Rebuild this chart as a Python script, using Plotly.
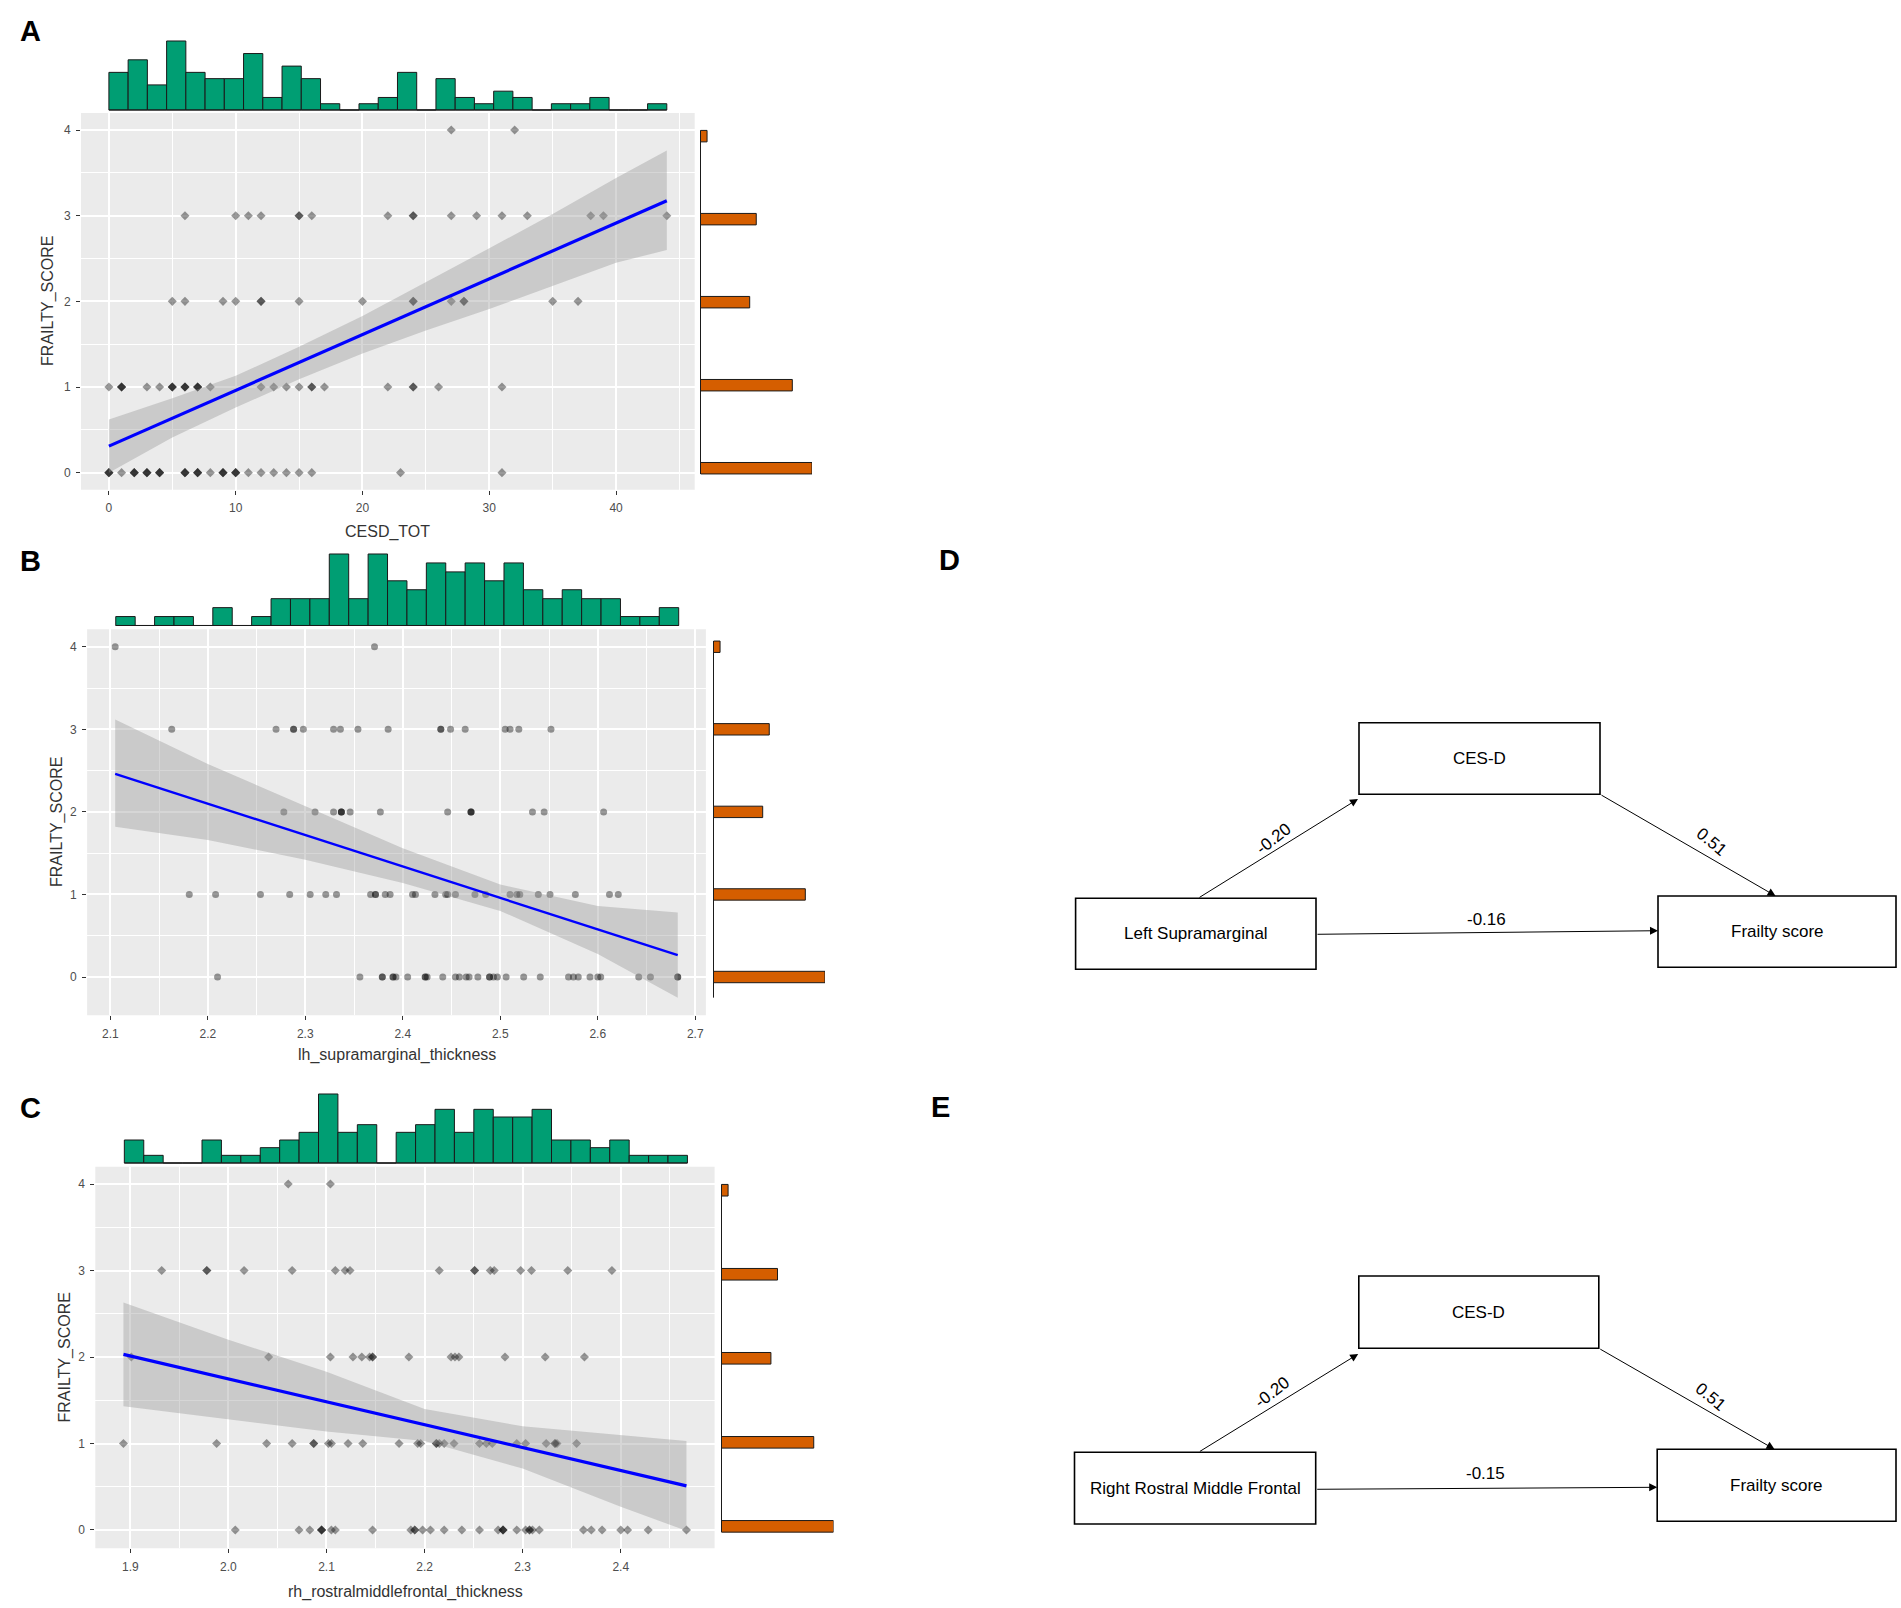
import plotly.graph_objects as go

W, H = 1901, 1608
FONT = "Liberation Sans, Arial, Helvetica, sans-serif"


def fx(p):
    return p / W


def fy(p):
    return 1.0 - p / H


# ---------------- data ----------------
frailty_levels = [0, 1, 2, 3, 4]
frailty_counts = [34, 28, 15, 17, 2]
frailty_ticks = [0, 1, 2, 3, 4]

# Panel A : CESD_TOT vs FRAILTY_SCORE
a_x_at0 = [0, 0, 0, 1, 2, 2, 2, 3, 3, 3, 4, 4, 4, 6, 6, 6, 7, 7, 7, 8, 9, 9, 9, 10, 10, 10, 11, 12, 13, 14, 15, 16, 23, 31]
a_x_at1 = [0, 1, 1, 1, 3, 4, 5, 5, 5, 6, 6, 6, 7, 7, 7, 8, 12, 13, 14, 15, 16, 16, 17, 22, 24, 24, 26, 31]
a_x_at2 = [5, 6, 9, 10, 12, 12, 15, 20, 24, 24, 27, 28, 28, 35, 37]
a_x_at3 = [6, 10, 11, 12, 15, 15, 16, 22, 24, 24, 27, 29, 31, 33, 38, 39, 44]
a_x_at4 = [27, 32]
a_fit_x = [0, 44]
a_fit_y = [0.31, 3.175]
a_band_x = [0, 5, 10, 15, 20, 25, 30, 35, 40, 44]
a_band_lo = [0.00, 0.41, 0.76, 1.09, 1.39, 1.66, 1.91, 2.18, 2.45, 2.60]
a_band_hi = [0.62, 0.87, 1.13, 1.47, 1.83, 2.22, 2.62, 3.02, 3.44, 3.76]
a_hist_counts = [6, 8, 4, 11, 6, 5, 5, 9, 2, 7, 5, 1, 0, 1, 2, 6, 0, 5, 2, 1, 3, 2, 0, 1, 1, 2, 0, 0, 1]
a_hist_span = [0, 44]
a_xticks = [0, 10, 20, 30, 40]
a_xticklabels = ["0", "10", "20", "30", "40"]

# Panel B : lh_supramarginal_thickness vs FRAILTY_SCORE
b_x_at0 = [2.210, 2.356, 2.379, 2.379, 2.390, 2.390, 2.393, 2.405, 2.423, 2.423, 2.425, 2.441, 2.454, 2.458,
           2.465, 2.468, 2.477, 2.489, 2.489, 2.493, 2.497, 2.506, 2.524, 2.541, 2.570, 2.575, 2.580, 2.592,
           2.600, 2.603, 2.642, 2.654, 2.682, 2.682]
b_x_at1 = [2.181, 2.208, 2.254, 2.284, 2.305, 2.321, 2.332, 2.367, 2.372, 2.372, 2.382, 2.387, 2.410, 2.413,
           2.433, 2.444, 2.446, 2.454, 2.474, 2.485, 2.510, 2.517, 2.520, 2.539, 2.551, 2.577, 2.612, 2.621]
b_x_at2 = [2.278, 2.310, 2.329, 2.337, 2.337, 2.337, 2.346, 2.377, 2.446, 2.470, 2.470, 2.470, 2.533, 2.545, 2.606]
b_x_at3 = [2.163, 2.270, 2.288, 2.288, 2.298, 2.329, 2.336, 2.354, 2.385, 2.439, 2.439, 2.449, 2.464, 2.505,
           2.510, 2.519, 2.552]
b_x_at4 = [2.105, 2.371]
b_fit_x = [2.105, 2.682]
b_fit_y = [2.46, 0.266]
b_band_x = [2.105, 2.2, 2.3, 2.4, 2.5, 2.6, 2.682]
b_band_lo = [1.82, 1.66, 1.42, 1.14, 0.80, 0.28, -0.25]
b_band_hi = [3.12, 2.58, 2.07, 1.56, 1.12, 0.86, 0.78]
b_hist_counts = [1, 0, 1, 1, 0, 2, 0, 1, 3, 3, 3, 8, 3, 8, 5, 4, 7, 6, 7, 5, 7, 4, 3, 4, 3, 3, 1, 1, 2]
b_hist_span = [2.1056, 2.683]
b_xticks = [2.1, 2.2, 2.3, 2.4, 2.5, 2.6, 2.7]
b_xticklabels = ["2.1", "2.2", "2.3", "2.4", "2.5", "2.6", "2.7"]

# Panel C : rh_rostralmiddlefrontal_thickness vs FRAILTY_SCORE
c_x_at0 = [2.007, 2.072, 2.083, 2.095, 2.095, 2.095, 2.105, 2.109, 2.147, 2.186, 2.190, 2.190, 2.198, 2.206,
           2.220, 2.238, 2.256, 2.275, 2.280, 2.280, 2.280, 2.294, 2.303, 2.307, 2.307, 2.310, 2.317, 2.362,
           2.370, 2.381, 2.400, 2.407, 2.428, 2.467]
c_x_at1 = [1.893, 1.988, 2.039, 2.065, 2.087, 2.087, 2.102, 2.105, 2.122, 2.137, 2.174, 2.193, 2.196, 2.212,
           2.212, 2.215, 2.220, 2.230, 2.256, 2.263, 2.269, 2.294, 2.303, 2.324, 2.333, 2.333, 2.335, 2.355]
c_x_at2 = [1.901, 2.041, 2.104, 2.127, 2.136, 2.144, 2.147, 2.147, 2.184, 2.227, 2.231, 2.235, 2.282, 2.323, 2.363]
c_x_at3 = [1.932, 1.978, 1.978, 2.016, 2.065, 2.109, 2.119, 2.124, 2.215, 2.251, 2.251, 2.267, 2.271, 2.298,
           2.309, 2.346, 2.391]
c_x_at4 = [2.061, 2.104]
c_fit_x = [1.893, 2.467]
c_fit_y = [2.03, 0.51]
c_band_x = [1.893, 2.0, 2.1, 2.2, 2.3, 2.4, 2.467]
c_band_lo = [1.43, 1.28, 1.14, 1.03, 0.71, 0.27, -0.01]
c_band_hi = [2.63, 2.20, 1.83, 1.40, 1.20, 1.10, 1.03]
c_hist_counts = [3, 1, 0, 0, 3, 1, 1, 2, 3, 4, 9, 4, 5, 0, 4, 5, 7, 4, 7, 6, 6, 7, 3, 3, 2, 3, 1, 1, 1]
c_hist_span = [1.8939, 2.468]
c_xticks = [1.9, 2.0, 2.1, 2.2, 2.3, 2.4]
c_xticklabels = ["1.9", "2.0", "2.1", "2.2", "2.3", "2.4"]

# Mediation diagrams D and E
d_nodes = ["CES-D", "Left Supramarginal", "Frailty score"]
d_paths = ["-0.20", "0.51", "-0.16"]
e_nodes = ["CES-D", "Right Rostral Middle Frontal", "Frailty score"]
e_paths = ["-0.20", "0.51", "-0.15"]

# ---------------- layout / style config ----------------
panels = [
    dict(letter="A", letter_xy=(30.5, 30.5), xs=[a_x_at0, a_x_at1, a_x_at2, a_x_at3, a_x_at4],
         fit_x=a_fit_x, fit_y=a_fit_y, band_x=a_band_x, band_lo=a_band_lo, band_hi=a_band_hi,
         hist=a_hist_counts, hist_span=a_hist_span, xticks=a_xticks, xticklabels=a_xticklabels,
         xtitle="CESD_TOT", xrange=[-2.2, 46.2], yrange=[-0.2, 4.2],
         xdom=(81.0, 694.7), ydom=(112.9, 489.8), hist_base=110.0, hist_top=41.0,
         marg_x=(700.5, 812.0), marg_yrange=[-0.26, 4.28], marg_line=(-0.07, 4.07),
         minor_dx=5, xtitle_xy=(387.8, 532.0), ytitle_xy=(48.5, 301.4),
         msym="diamond", msize=7.0, lw=3.2),
    dict(letter="B", letter_xy=(30.7, 560.5), xs=[b_x_at0, b_x_at1, b_x_at2, b_x_at3, b_x_at4],
         fit_x=b_fit_x, fit_y=b_fit_y, band_x=b_band_x, band_lo=b_band_lo, band_hi=b_band_hi,
         hist=b_hist_counts, hist_span=b_hist_span, xticks=b_xticks, xticklabels=b_xticklabels,
         xtitle="lh_supramarginal_thickness", xrange=[2.0762, 2.7109], yrange=[-0.4625, 4.2125],
         xdom=(87.1, 705.9), ydom=(629.2, 1015.2), hist_base=625.5, hist_top=554.0,
         marg_x=(713.5, 825.0), marg_yrange=[-0.4625, 4.2125], marg_line=(-0.25, 4.07),
         minor_dx=0.05, xtitle_xy=(396.5, 1055.0), ytitle_xy=(57.0, 822.0),
         msym="circle", msize=7.0, lw=2.4),
    dict(letter="C", letter_xy=(30.5, 1108.0), xs=[c_x_at0, c_x_at1, c_x_at2, c_x_at3, c_x_at4],
         fit_x=c_fit_x, fit_y=c_fit_y, band_x=c_band_x, band_lo=c_band_lo, band_hi=c_band_hi,
         hist=c_hist_counts, hist_span=c_hist_span, xticks=c_xticks, xticklabels=c_xticklabels,
         xtitle="rh_rostralmiddlefrontal_thickness", xrange=[1.8643, 2.4957], yrange=[-0.2105, 4.2005],
         xdom=(95.3, 714.6), ydom=(1166.7, 1548.2), hist_base=1163.0, hist_top=1094.0,
         marg_x=(721.5, 833.5), marg_yrange=[-0.26, 4.28], marg_line=(-0.07, 4.07),
         minor_dx=0.05, xtitle_xy=(405.0, 1592.0), ytitle_xy=(64.0, 1357.5),
         msym="diamond", msize=7.0, lw=3.2),
]

diagrams = [
    dict(letter="D", letter_xy=(949.0, 560.0), nodes=d_nodes, paths=d_paths,
         boxes=[(1359.0, 722.7, 1600.0, 794.3), (1075.6, 898.3, 1316.0, 969.3), (1658.0, 896.0, 1896.0, 967.3)],
         arrows=[((1198.0, 898.3), (1358.0, 799.0)), ((1600.0, 794.3), (1775.6, 896.0)),
                 ((1316.0, 934.3), (1658.0, 930.7))],
         labels=[(1273.7, 838.3, -38), (1711.0, 841.7, 40), (1486.5, 920.0, 0)]),
    dict(letter="E", letter_xy=(940.0, 1107.0), nodes=e_nodes, paths=e_paths,
         boxes=[(1358.8, 1276.0, 1598.8, 1348.3), (1074.5, 1452.3, 1315.7, 1524.0), (1657.2, 1449.3, 1896.0, 1521.3)],
         arrows=[((1198.4, 1452.3), (1358.2, 1354.0)), ((1598.8, 1348.3), (1774.5, 1449.3)),
                 ((1315.7, 1489.3), (1657.2, 1487.3))],
         labels=[(1272.0, 1392.7, -38), (1710.0, 1396.7, 40), (1485.4, 1473.3, 0)]),
]

GREEN = "#009E73"
ORANGE = "#D55E00"
OUTLINE = "#1a1a1a"

fig = go.Figure()
layout_axes = {}
shapes = []
annotations = []


def axname(k, n):
    return f"{k}axis" if n == 1 else f"{k}axis{n}"


def aref(k, n):
    return k if n == 1 else f"{k}{n}"


for i, p in enumerate(panels):
    nm, nh, ng = 3 * i + 1, 3 * i + 2, 3 * i + 3
    xm, ym = aref("x", nm), aref("y", nm)
    xh, yh = aref("x", nh), aref("y", nh)
    xg, yg = aref("x", ng), aref("y", ng)

    # scatter points
    pts_x, pts_y = [], []
    for lvl, xs in zip(frailty_levels, p["xs"]):
        pts_x += xs
        pts_y += [lvl] * len(xs)
    fig.add_trace(go.Scatter(x=pts_x, y=pts_y, mode="markers", xaxis=xm, yaxis=ym,
                             marker=dict(symbol=p["msym"], size=p["msize"], color="rgba(0,0,0,0.4)",
                                         line=dict(width=0)),
                             hoverinfo="skip", showlegend=False))
    # confidence band
    fig.add_trace(go.Scatter(x=p["band_x"] + p["band_x"][::-1], y=p["band_lo"] + p["band_hi"][::-1],
                             mode="lines", fill="toself", fillcolor="rgba(153,153,153,0.4)",
                             line=dict(width=0), xaxis=xm, yaxis=ym, hoverinfo="skip", showlegend=False))
    # regression line
    fig.add_trace(go.Scatter(x=p["fit_x"], y=p["fit_y"], mode="lines", xaxis=xm, yaxis=ym,
                             line=dict(color="#0000FF", width=p["lw"]), hoverinfo="skip", showlegend=False))
    # top marginal histogram
    lo, hi = p["hist_span"]
    nb = len(p["hist"])
    w = (hi - lo) / nb
    centers = [lo + (k + 0.5) * w for k in range(nb)]
    fig.add_trace(go.Bar(x=centers, y=p["hist"], width=w, xaxis=xh, yaxis=yh,
                         marker=dict(color=GREEN, line=dict(color=OUTLINE, width=1)),
                         hoverinfo="skip", showlegend=False))
    # right marginal histogram
    fig.add_trace(go.Bar(x=frailty_counts, y=frailty_levels, orientation="h", width=0.138, xaxis=xg, yaxis=yg,
                         marker=dict(color=ORANGE, line=dict(color=OUTLINE, width=1)),
                         hoverinfo="skip", showlegend=False))

    tickfont = dict(family=FONT, size=12, color="#4D4D4D")
    layout_axes[axname("x", nm)] = dict(
        domain=[fx(p["xdom"][0]), fx(p["xdom"][1])], range=p["xrange"], anchor=ym,
        tickmode="array", tickvals=p["xticks"], ticktext=p["xticklabels"],
        ticks="outside", ticklen=4, tickwidth=1, tickcolor="#333333", tickfont=tickfont,
        ticklabelstandoff=3,
        showgrid=True, gridcolor="white", gridwidth=1.6, zeroline=False, showline=False,
        minor=dict(tick0=0, dtick=p["minor_dx"], showgrid=True, gridcolor="white", gridwidth=0.8, ticks=""),
    )
    layout_axes[axname("y", nm)] = dict(
        domain=[fy(p["ydom"][1]), fy(p["ydom"][0])], range=p["yrange"], anchor=xm,
        tickmode="array", tickvals=frailty_ticks, ticktext=[str(t) for t in frailty_ticks],
        ticks="outside", ticklen=4, tickwidth=1, tickcolor="#333333", tickfont=tickfont,
        ticklabelstandoff=3,
        showgrid=True, gridcolor="white", gridwidth=1.6, zeroline=False, showline=False,
        minor=dict(tick0=0, dtick=0.5, showgrid=True, gridcolor="white", gridwidth=0.8, ticks=""),
    )
    # top histogram axes
    hmax = max(p["hist"])
    unit = (p["hist_base"] - p["hist_top"]) / hmax
    pad_lo, pad_hi = 0.03 * hmax, 0.015 * hmax
    layout_axes[axname("x", nh)] = dict(domain=[fx(p["xdom"][0]), fx(p["xdom"][1])], range=p["xrange"],
                                        anchor=yh, visible=False)
    layout_axes[axname("y", nh)] = dict(domain=[fy(p["hist_base"] + pad_lo * unit), fy(p["hist_top"] - pad_hi * unit)],
                                        range=[-pad_lo, hmax + pad_hi], anchor=xh, visible=False)
    # right histogram axes
    cmax = max(frailty_counts)
    layout_axes[axname("x", ng)] = dict(domain=[fx(p["marg_x"][0]), fx(p["marg_x"][1])], range=[0, cmax],
                                        anchor=yg, visible=False)
    layout_axes[axname("y", ng)] = dict(domain=[fy(p["ydom"][1]), fy(p["ydom"][0])], range=p["marg_yrange"],
                                        anchor=xg, visible=False)

    # panel background
    shapes.append(dict(type="rect", xref=f"{xm} domain", yref=f"{ym} domain", x0=0, x1=1, y0=0, y1=1,
                       fillcolor="#EBEBEB", line=dict(width=0), layer="below"))
    # histogram baseline
    shapes.append(dict(type="line", xref=xh, yref=yh, x0=lo, x1=hi, y0=0, y1=0,
                       line=dict(color=OUTLINE, width=1)))
    # right marginal axis line
    shapes.append(dict(type="line", xref="paper", yref=yg, x0=fx(p["marg_x"][0]), x1=fx(p["marg_x"][0]),
                       y0=p["marg_line"][0], y1=p["marg_line"][1], line=dict(color=OUTLINE, width=1)))

    # axis titles
    annotations.append(dict(text=p["xtitle"], xref="paper", yref="paper", x=fx(p["xtitle_xy"][0]),
                            y=fy(p["xtitle_xy"][1]), xanchor="center", yanchor="middle", showarrow=False,
                            font=dict(family=FONT, size=16, color="#333333")))
    annotations.append(dict(text="FRAILTY_SCORE", xref="paper", yref="paper", x=fx(p["ytitle_xy"][0]),
                            y=fy(p["ytitle_xy"][1]), xanchor="center", yanchor="middle", showarrow=False,
                            textangle=-90, font=dict(family=FONT, size=16, color="#333333")))
    annotations.append(dict(text=f"<b>{p['letter']}</b>", xref="paper", yref="paper", x=fx(p["letter_xy"][0]),
                            y=fy(p["letter_xy"][1]), xanchor="center", yanchor="middle", showarrow=False,
                            font=dict(family=FONT, size=29, color="black")))

for d in diagrams:
    for (x0, y0, x1, y1), name in zip(d["boxes"], d["nodes"]):
        shapes.append(dict(type="rect", xref="paper", yref="paper", x0=fx(x0), x1=fx(x1), y0=fy(y1), y1=fy(y0),
                           line=dict(color="black", width=1.6), fillcolor="rgba(0,0,0,0)"))
        annotations.append(dict(text=name, xref="paper", yref="paper", x=fx((x0 + x1) / 2), y=fy((y0 + y1) / 2),
                                xanchor="center", yanchor="middle", showarrow=False,
                                font=dict(family=FONT, size=17, color="black")))
    for (tail, head) in d["arrows"]:
        annotations.append(dict(text="", xref="paper", yref="paper", x=fx(head[0]), y=fy(head[1]),
                                axref="pixel", ayref="pixel", ax=tail[0] - head[0], ay=tail[1] - head[1],
                                showarrow=True, arrowhead=2, arrowsize=1.6, arrowwidth=1, arrowcolor="black",
                                standoff=0, startstandoff=0))
    for (lx, ly, ang), lab in zip(d["labels"], d["paths"]):
        annotations.append(dict(text=lab, xref="paper", yref="paper", x=fx(lx), y=fy(ly), xanchor="center",
                                yanchor="middle", showarrow=False, textangle=ang,
                                font=dict(family=FONT, size=17, color="black")))
    annotations.append(dict(text=f"<b>{d['letter']}</b>", xref="paper", yref="paper", x=fx(d["letter_xy"][0]),
                            y=fy(d["letter_xy"][1]), xanchor="center", yanchor="middle", showarrow=False,
                            font=dict(family=FONT, size=29, color="black")))

fig.update_layout(
    width=W, height=H, autosize=False,
    margin=dict(l=0, r=0, t=0, b=0, pad=0),
    paper_bgcolor="white", plot_bgcolor="rgba(0,0,0,0)",
    showlegend=False, font=dict(family=FONT),
    shapes=shapes, annotations=annotations,
    **layout_axes,
)

fig.write_html(
    "out.html",
    config={"displayModeBar": False},
    post_script="document.body.style.margin='0';document.body.style.padding='0';"
                "document.body.style.overflow='hidden';",
)
